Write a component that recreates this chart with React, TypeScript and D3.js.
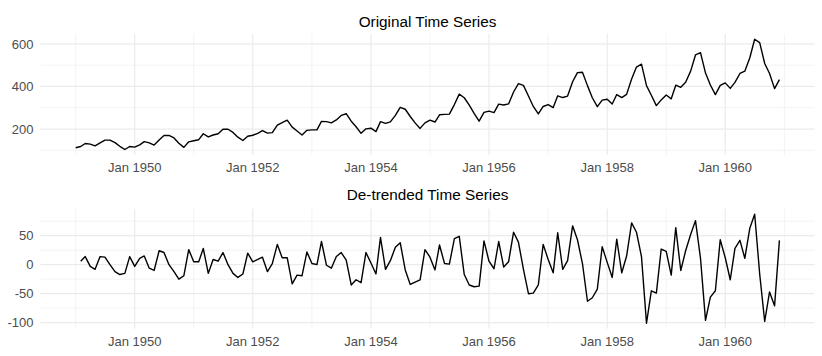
import React from "react";
import * as d3 from "d3";

// AirPassengers monthly totals, Jan 1949 – Dec 1960
const startYear = 1949;
const passengers: number[] = [
  112, 118, 132, 129, 121, 135, 148, 148, 136, 119, 104, 118,
  115, 126, 141, 135, 125, 149, 170, 170, 158, 133, 114, 140,
  145, 150, 178, 163, 172, 178, 199, 199, 184, 162, 146, 166,
  171, 180, 193, 181, 183, 218, 230, 242, 209, 191, 172, 194,
  196, 196, 236, 235, 229, 243, 264, 272, 237, 211, 180, 201,
  204, 188, 235, 227, 234, 264, 302, 293, 259, 229, 203, 229,
  242, 233, 267, 269, 270, 315, 364, 347, 312, 274, 237, 278,
  284, 277, 317, 313, 318, 374, 413, 405, 355, 306, 271, 306,
  315, 301, 356, 348, 355, 422, 465, 467, 404, 347, 305, 336,
  340, 318, 362, 348, 363, 435, 491, 505, 404, 359, 310, 337,
  360, 342, 406, 396, 420, 472, 548, 559, 463, 407, 362, 405,
  417, 391, 419, 461, 472, 535, 622, 606, 508, 461, 390, 432,
];

// De-trended (first differences), Feb 1949 – Dec 1960
const detrended: number[] = [
  6, 14, -3, -8, 14, 13, 0, -12, -17, -15, 14,
  -3, 11, 15, -6, -10, 24, 21, 0, -12, -25, -19, 26,
  5, 5, 28, -15, 9, 6, 21, 0, -15, -22, -16, 20,
  5, 9, 13, -12, 2, 35, 12, 12, -33, -18, -19, 22,
  2, 0, 40, -1, -6, 14, 21, 8, -35, -26, -31, 21,
  3, -16, 47, -8, 7, 30, 38, -9, -34, -30, -26, 26,
  13, -9, 34, 2, 1, 45, 49, -17, -35, -38, -37, 41,
  6, -7, 40, -4, 5, 56, 39, -8, -50, -49, -35, 35,
  9, -14, 55, -8, 7, 67, 43, 2, -63, -57, -42, 31,
  4, -22, 44, -14, 15, 72, 56, 14, -101, -45, -49, 27,
  23, -18, 64, -10, 24, 52, 76, 11, -96, -56, -45, 43,
  12, -26, 28, 42, 11, 63, 87, -16, -98, -47, -71, 42,
];

const titles = ["Original Time Series", "De-trended Time Series"];
const yBreaksTop = [200, 400, 600];
const yMinorTop = [100, 300, 500];
const yBreaksBottom = [-100, -50, 0, 50];
const yMinorBottom = [-75, -25, 25, 75];
const xMajorYears = [1950, 1952, 1954, 1956, 1958, 1960];
const xMinorYears = [1949, 1951, 1953, 1955, 1957, 1959, 1961];

const W = 822;
const H = 356;
const LEFT = 40.5;
const RIGHT = 814.6;
const FONT = "'Liberation Sans', Arial, Helvetica, sans-serif";

type Pt = { date: Date; value: number };

const seriesTop: Pt[] = passengers.map((v, i) => ({ date: new Date(startYear, i, 1), value: v }));
const seriesBottom: Pt[] = detrended.map((v, i) => ({ date: new Date(startYear, i + 1, 1), value: v }));

function expand(ext: [number, number], f = 0.05): [number, number] {
  const r = ext[1] - ext[0];
  return [ext[0] - r * f, ext[1] + r * f];
}

const allDates = seriesTop.map((d) => +d.date);
const xDom = expand([d3.min(allDates)!, d3.max(allDates)!]);
const x = d3.scaleTime().domain([new Date(xDom[0]), new Date(xDom[1])]).range([LEFT, RIGHT]);

function Panel(props: {
  data: Pt[];
  top: number;
  bottom: number;
  title: string;
  titleY: number;
  labelY: number;
  majors: number[];
  minors: number[];
}) {
  const { data, top, bottom, title, titleY, labelY, majors, minors } = props;
  const vals = data.map((d) => d.value);
  const yDom = expand([d3.min(vals)!, d3.max(vals)!]);
  const y = d3.scaleLinear().domain(yDom).range([bottom, top]);
  const line = d3
    .line<Pt>()
    .x((d) => x(d.date))
    .y((d) => y(d.value));
  const grid = "#EBEBEB";
  return (
    <g>
      {minors.map((v) => (
        <line key={"hm" + v} x1={LEFT} x2={RIGHT} y1={y(v)} y2={y(v)} stroke={grid} strokeWidth={0.6} />
      ))}
      {xMinorYears.map((yr) => (
        <line
          key={"vm" + yr}
          x1={x(new Date(yr, 0, 1))}
          x2={x(new Date(yr, 0, 1))}
          y1={top}
          y2={bottom}
          stroke={grid}
          strokeWidth={0.6}
        />
      ))}
      {majors.map((v) => (
        <line key={"hM" + v} x1={LEFT} x2={RIGHT} y1={y(v)} y2={y(v)} stroke={grid} strokeWidth={1.2} />
      ))}
      {xMajorYears.map((yr) => (
        <line
          key={"vM" + yr}
          x1={x(new Date(yr, 0, 1))}
          x2={x(new Date(yr, 0, 1))}
          y1={top}
          y2={bottom}
          stroke={grid}
          strokeWidth={1.2}
        />
      ))}
      <path d={line(data)!} fill="none" stroke="#000" strokeWidth={1.4} strokeLinejoin="round" />
      {majors.map((v) => (
        <text
          key={"yl" + v}
          x={33.5}
          y={y(v)}
          dy="0.36em"
          textAnchor="end"
          fontSize={13}
          fill="#4D4D4D"
          fontFamily={FONT}
        >
          {v}
        </text>
      ))}
      {xMajorYears.map((yr) => (
        <text
          key={"xl" + yr}
          x={x(new Date(yr, 0, 1))}
          y={labelY}
          textAnchor="middle"
          fontSize={13}
          fill="#4D4D4D"
          fontFamily={FONT}
        >
          {"Jan " + yr}
        </text>
      ))}
      <text
        x={(LEFT + RIGHT) / 2}
        y={titleY}
        textAnchor="middle"
        fontSize={15.3}
        fill="#000"
        fontFamily={FONT}
      >
        {title}
      </text>
    </g>
  );
}

export default function App() {
  return (
    <div style={{ position: "absolute", left: 0, top: 0, width: W, height: H, background: "#fff" }}>
      <svg width={W} height={H} viewBox={`0 0 ${W} ${H}`}>
        <rect width={W} height={H} fill="#fff" />
        <Panel
          data={seriesTop}
          top={33.7}
          bottom={155}
          title={titles[0]}
          titleY={27}
          labelY={172.2}
          majors={yBreaksTop}
          minors={yMinorTop}
        />
        <Panel
          data={seriesBottom}
          top={208.8}
          bottom={328.7}
          title={titles[1]}
          titleY={199.5}
          labelY={345.8}
          majors={yBreaksBottom}
          minors={yMinorBottom}
        />
      </svg>
    </div>
  );
}
